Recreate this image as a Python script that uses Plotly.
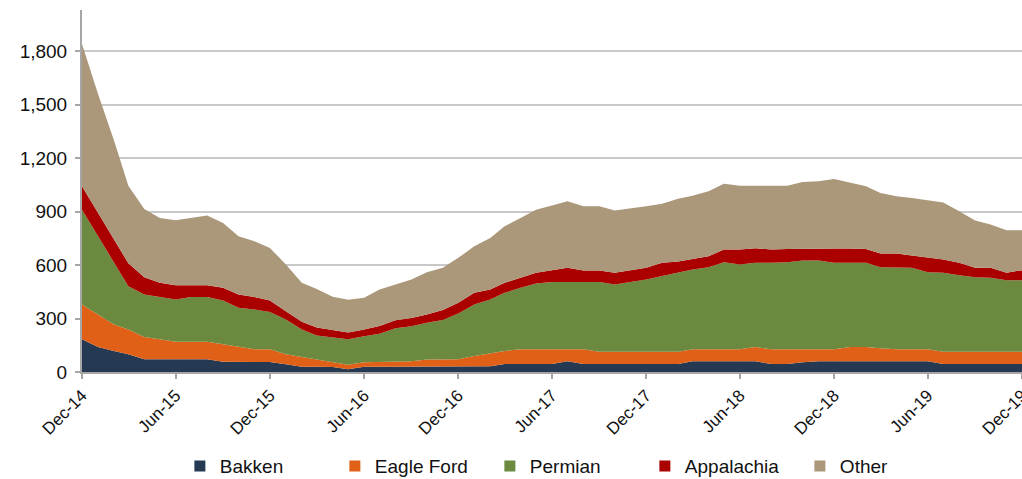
import plotly.graph_objects as go
import pandas as pd

months = pd.date_range("2014-12-01", "2019-12-01", freq="MS")

bakken = [183, 140, 118, 99, 71, 71, 71, 71, 71, 58, 56, 56, 56, 43, 30, 30, 28, 15, 30, 30,
          30, 30, 30, 32, 32, 32, 32, 45, 45, 45, 45, 60, 45, 45, 45, 45, 45, 45, 45, 60,
          60, 60, 60, 60, 45, 45, 55, 60, 60, 60, 60, 60, 60, 60, 60, 45, 45, 45, 45, 45, 45]
eagle_ford = [196, 183, 149, 140, 125, 112, 99, 99, 99, 97, 86, 71, 71, 56, 54, 40, 26, 25, 25, 28,
              28, 30, 40, 39, 39, 58, 73, 73, 82, 82, 82, 67, 82, 69, 69, 69, 69, 69, 69, 67,
              67, 67, 67, 80, 82, 82, 72, 67, 67, 80, 80, 73, 67, 67, 67, 69, 69, 69, 69, 69, 69]
permian = [531, 438, 345, 242, 239, 237, 237, 250, 250, 246, 218, 224, 209, 196, 155, 135, 139, 143, 145, 157,
           187, 197, 206, 220, 257, 289, 302, 326, 345, 369, 377, 377, 377, 390, 377, 390, 405, 424, 442, 448,
           461, 489, 476, 472, 485, 489, 498, 498, 485, 472, 472, 455, 457, 457, 433, 442, 429, 418, 414, 401, 401]
appalachia = [131, 129, 130, 129, 97, 80, 80, 67, 67, 71, 75, 69, 65, 46, 43, 45, 42, 39, 38, 43,
              45, 46, 47, 56, 60, 65, 56, 56, 56, 60, 66, 80, 65, 65, 65, 67, 65, 74, 64, 59,
              61, 71, 84, 82, 75, 74, 67, 67, 80, 80, 78, 76, 80, 69, 80, 75, 69, 52, 56, 41, 56]
other = [799, 670, 558, 435, 382, 364, 364, 377, 390, 364, 326, 313, 295, 262, 218, 215, 187, 183, 178, 205,
         201, 216, 237, 237, 252, 261, 289, 317, 336, 354, 363, 373, 360, 360, 349, 345, 345, 332, 352, 355,
         364, 369, 358, 351, 358, 355, 374, 377, 390, 368, 351, 340, 321, 323, 323, 320, 289, 265, 243, 239, 224]

series_names = ["Bakken", "Eagle Ford", "Permian", "Appalachia", "Other"]
series_values = [bakken, eagle_ford, permian, appalachia, other]
series_colors = ["#253a52", "#e06018", "#6b8a40", "#aa0000", "#ab977a"]

y_ticks = [0, 300, 600, 900, 1200, 1500, 1800]

fig = go.Figure()
for name, vals, col in zip(series_names, series_values, series_colors):
    fig.add_trace(go.Scatter(
        x=months, y=vals, name=name, mode="lines", stackgroup="one",
        line=dict(width=0, color=col), fillcolor=col, showlegend=False,
    ))
# legend entries with square swatches
for name, col in zip(series_names, series_colors):
    fig.add_trace(go.Scatter(
        x=[None], y=[None], name=name, mode="markers",
        marker=dict(symbol="square", size=11, color=col), showlegend=True,
    ))

fig.update_layout(
    width=1022, height=479,
    margin=dict(l=82, r=0, t=10, b=107),
    plot_bgcolor="white", paper_bgcolor="white",
    font=dict(family="Liberation Sans, Arial, sans-serif", size=18, color="#111"),
    showlegend=True,
    legend=dict(orientation="h", xref="container", yref="container",
                x=0.176, xanchor="left", y=0.027, yanchor="middle",
                font=dict(size=19), itemwidth=30, entrywidth=110, traceorder="normal"),
    hovermode=False,
)
fig.update_xaxes(
    type="date", range=[months[0], months[-1]],
    tickformat="%b-%y", dtick="M6", tick0=months[0], tickangle=-45,
    showgrid=False, showline=True, linecolor="#a6a6a6", linewidth=2,
    ticks="outside", ticklen=5, tickcolor="#a6a6a6", tickwidth=2,
    tickfont=dict(size=17), automargin=False, ticklabeloverflow="allow",
)
fig.update_yaxes(
    range=[0, 2030], tickvals=y_ticks, tickformat=",d",
    showgrid=True, gridcolor="#c8c8c8", gridwidth=2,
    showline=True, linecolor="#a6a6a6", linewidth=2,
    ticks="outside", ticklen=5, tickcolor="#a6a6a6", tickwidth=2,
    zeroline=False, tickfont=dict(size=19), automargin=False, ticklabelstandoff=4,
)

page_fix = (
    "document.documentElement.style.margin='0px';"
    "document.documentElement.style.overflow='hidden';"
    "document.body.style.margin='0px';"
    "document.body.style.overflow='hidden';"
    "document.body.style.fontSize='0px';"
    "document.body.style.lineHeight='0';"
)

fig.write_html("out.html", config={"displayModeBar": False, "staticPlot": True},
               post_script=page_fix)
